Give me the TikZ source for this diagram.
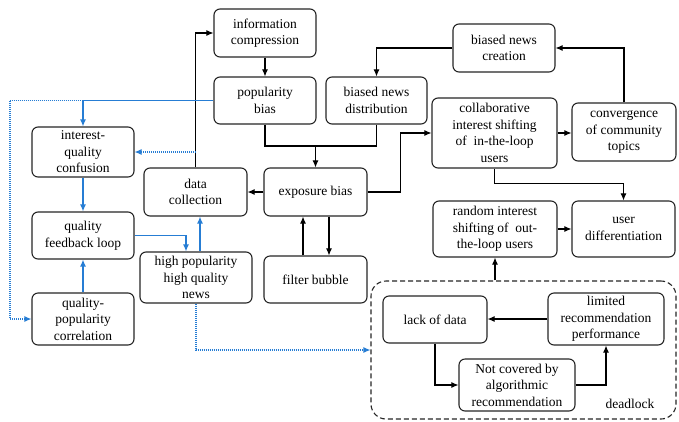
\documentclass[tikz,border=0pt]{standalone}
\usepackage{fontspec}
\setmainfont{Liberation Serif}
\usetikzlibrary{arrows.meta}
\definecolor{lblue}{RGB}{38,125,212}
\begin{document}
\begin{tikzpicture}[x=1pt,y=-1pt,
  box/.style={draw=black!85,line width=1.1pt,rounded corners=6pt,align=center,inner sep=0pt,
    font=\fontsize{13.5}{16.5}\selectfont},
  arr/.style={line width=1.05pt,-{Latex[length=7pt,width=6pt]}},
  plain/.style={line width=1.05pt},
  barr/.style={draw=lblue,line width=1.3pt,-{Latex[length=7pt,width=6pt]}},
  bdot/.style={draw=lblue,line width=1.1pt,dash pattern=on 1pt off 1pt,-{Latex[length=7pt,width=6pt]}}]
\useasboundingbox (0,0) rectangle (679,421);
\fill[white] (0,0) rectangle (679,421);

\node[box,minimum width=102pt,minimum height=48pt] (info) at (265,33) {information\\compression};
\node[box,minimum width=102pt,minimum height=47pt] (pop) at (265,100.5) {popularity\\bias};
\node[box,minimum width=102pt,minimum height=48pt] (bnc) at (504,48) {biased news\\creation};
\node[box,minimum width=101pt,minimum height=47pt] (bnd) at (376.5,100.5) {biased news\\distribution};
\node[box,minimum width=125pt,minimum height=70pt] (coll) at (494.5,133) {collaborative\\interest shifting\\of~ in-the-loop\\users};
\node[box,minimum width=104pt,minimum height=58pt] (conv) at (624,132) {convergence\\of community\\topics};
\node[box,minimum width=102pt,minimum height=50pt] (iqc) at (83,152) {interest-\\quality\\confusion};
\node[box,minimum width=103pt,minimum height=48pt] (dc) at (195.5,192) {data\\collection};
\node[box,minimum width=103pt,minimum height=48pt] (exp) at (315.5,192) {exposure bias};
\node[box,minimum width=103pt,minimum height=47pt] (fb) at (315.5,279.5) {filter bubble};
\node[box,minimum width=102pt,minimum height=47pt] (qfl) at (83,235.5) {quality\\feedback loop};
\node[box,minimum width=112pt,minimum height=51pt] (hp) at (196,277.5) {high popularity\\high quality\\news};
\node[box,minimum width=102pt,minimum height=52pt] (qpc) at (83,319) {quality-\\popularity\\correlation};
\node[box,minimum width=124pt,minimum height=56pt] (ris) at (495,229) {random interest\\shifting of~ out-\\the-loop users};
\node[box,minimum width=103pt,minimum height=56pt] (ud) at (623.5,229) {user\\differentiation};
\node[draw=black!85,line width=1.1pt,dash pattern=on 5pt off 3pt,rounded corners=15pt,
  minimum width=305pt,minimum height=138pt,inner sep=0pt] (dl) at (523.5,350) {};
\node[box,minimum width=104pt,minimum height=47pt] (lod) at (435,319.5) {lack of data};
\node[box,minimum width=116pt,minimum height=52pt] (lrp) at (606,319) {limited\\recommendation\\performance};
\node[box,minimum width=116pt,minimum height=52pt] (ncb) at (517,385) {Not covered by\\algorithmic\\recommendation};
\node[font=\fontsize{13.5}{16.5}\selectfont] (dlt) at (630,404) {deadlock};

% black connectors
\draw[arr] (dc.north) |- (info.west);
\draw[arr] (info.south) -- (pop.north);
\coordinate (j) at (exp.north |- 0,146);
\draw[plain] (pop.south) |- (j);
\draw[plain] (bnd.south) |- (j);
\draw[arr] (j) -- (exp.north);
\draw[arr] (exp.west) -- (dc.east);
\draw[arr] (exp.east) -- ++(33,0) |- (coll.west);
\draw[arr] (coll.east) -- (conv.west |- coll.east);
\draw[arr] (conv.north) |- (bnc.east);
\draw[arr] (bnc.west) -| (bnd.north);
\draw[arr] (coll.south) -- ++(0,15) -| (ud.north);
\draw[arr] (ris.east) -- (ud.west);
\draw[arr] (ris.south |- dl.north) -- (ris.south);
\draw[arr] (lrp.west) -- (lod.east |- lrp.west);
\draw[arr] (lod.south) |- (ncb.west);
\draw[arr] (ncb.east) -| (lrp.south);
\draw[arr] ([xshift=-12.5pt]fb.north) -- ([xshift=-12.5pt]exp.south);
\draw[arr] ([xshift=13.5pt]exp.south) -- ([xshift=13.5pt]fb.north);

% blue connectors
\draw[bdot] (pop.west) -- (10,100.5) |- (qpc.west);
\draw[barr] (pop.west) -| (iqc.north);
\draw[bdot] (dc.north |- iqc.east) -- (iqc.east);
\draw[barr] (iqc.south) -- (qfl.north);
\draw[barr] (qpc.north) -- (qfl.south);
\draw[barr] (qfl.east) -| ([xshift=-10pt]hp.north);
\draw[barr] ([xshift=4pt]hp.north) -- ([xshift=4pt]hp.north |- dc.south);
\draw[bdot] (hp.south) |- (dl.west);
\end{tikzpicture}
\end{document}
